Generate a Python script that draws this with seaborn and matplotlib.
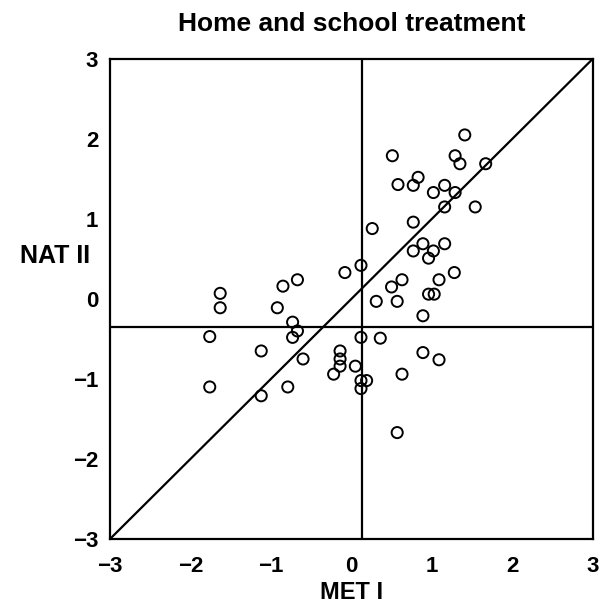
import matplotlib
matplotlib.use("Agg")
import matplotlib.pyplot as plt
import seaborn as sns
import pandas as pd

met_i = [0.12, -0.08, -0.67, -0.85, -1.63, -1.63, -0.92, 0.31, -0.73, -0.67,
         -0.73, -1.76, 0.12, 0.36, -1.12, -0.60, -0.14, -0.14, -0.14, 0.05,
         -0.22, 0.12, 0.19, 0.12, -1.76, -1.12, -0.79, 1.41, 0.51, 1.29,
         1.35, 1.67, 0.83, 0.77, 0.58, 1.16, 1.02, 1.29, 1.16, 1.54,
         0.77, 0.26, 0.89, 1.16, 0.77, 1.02, 0.96, 1.28, 0.63, 1.09,
         0.50, 0.96, 1.03, 0.57, 0.89, 0.89, 1.09, 0.63, 0.57]
nat_ii = [0.42, 0.33, 0.24, 0.16, 0.07, -0.11, -0.11, -0.03, -0.29, -0.40,
          -0.48, -0.47, -0.48, -0.49, -0.65, -0.75, -0.65, -0.75, -0.84, -0.84,
          -0.94, -1.02, -1.02, -1.12, -1.10, -1.21, -1.10, 2.05, 1.79, 1.79,
          1.69, 1.69, 1.52, 1.42, 1.43, 1.42, 1.33, 1.33, 1.15, 1.15,
          0.96, 0.88, 0.69, 0.69, 0.60, 0.60, 0.51, 0.33, 0.24, 0.24,
          0.15, 0.06, 0.06, -0.03, -0.21, -0.67, -0.76, -0.94, -1.67]
mean_met = 0.13
mean_nat = -0.35
ticks = [-3, -2, -1, 0, 1, 2, 3]
tick_labels = ["\u22123", "\u22122", "\u22121", "0", "1", "2", "3"]

df = pd.DataFrame({"MET I": met_i, "NAT II": nat_ii})

sns.set_style("white")
plt.rcParams["font.family"] = ["Liberation Sans", "DejaVu Sans"]
plt.rcParams["text.color"] = "black"
plt.rcParams["axes.labelcolor"] = "black"
plt.rcParams["xtick.color"] = "black"
plt.rcParams["ytick.color"] = "black"

fig = plt.figure(figsize=(6, 6.1), dpi=100)
ax = fig.add_axes([0.1833, 0.1164, 0.8045, 0.787])

sns.scatterplot(data=df, x="MET I", y="NAT II", ax=ax, marker="o", s=64,
                facecolor="none", edgecolor="black", linewidth=1.4, zorder=3)

ax.axline((0, 0), slope=1, color="black", linewidth=1.6)
ax.axvline(mean_met, color="black", linewidth=1.6)
ax.axhline(mean_nat, color="black", linewidth=1.6)

ax.set_xlim(-3, 3)
ax.set_ylim(-3, 3)
ax.set_xticks(ticks)
ax.set_yticks(ticks)
ax.set_xticklabels(tick_labels, fontsize=16, fontweight="bold")
ax.set_yticklabels(tick_labels, fontsize=16, fontweight="bold")
ax.tick_params(direction="in", length=9, width=1.5)
ax.tick_params(axis="x", pad=12)
ax.tick_params(axis="y", pad=8.5)
for sp in ax.spines.values():
    sp.set_color("black")
    sp.set_linewidth(1.6)

ax.set_xlabel("MET I", fontsize=17, fontweight="bold", labelpad=3)
ax.set_ylabel("NAT II", fontsize=18, fontweight="bold", rotation=0,
              ha="center", va="center")
ax.yaxis.set_label_coords(-0.113, 0.59)
ax.set_title("Home and school treatment", fontsize=19, fontweight="bold", pad=20)

fig.savefig("out.png", dpi=100)
